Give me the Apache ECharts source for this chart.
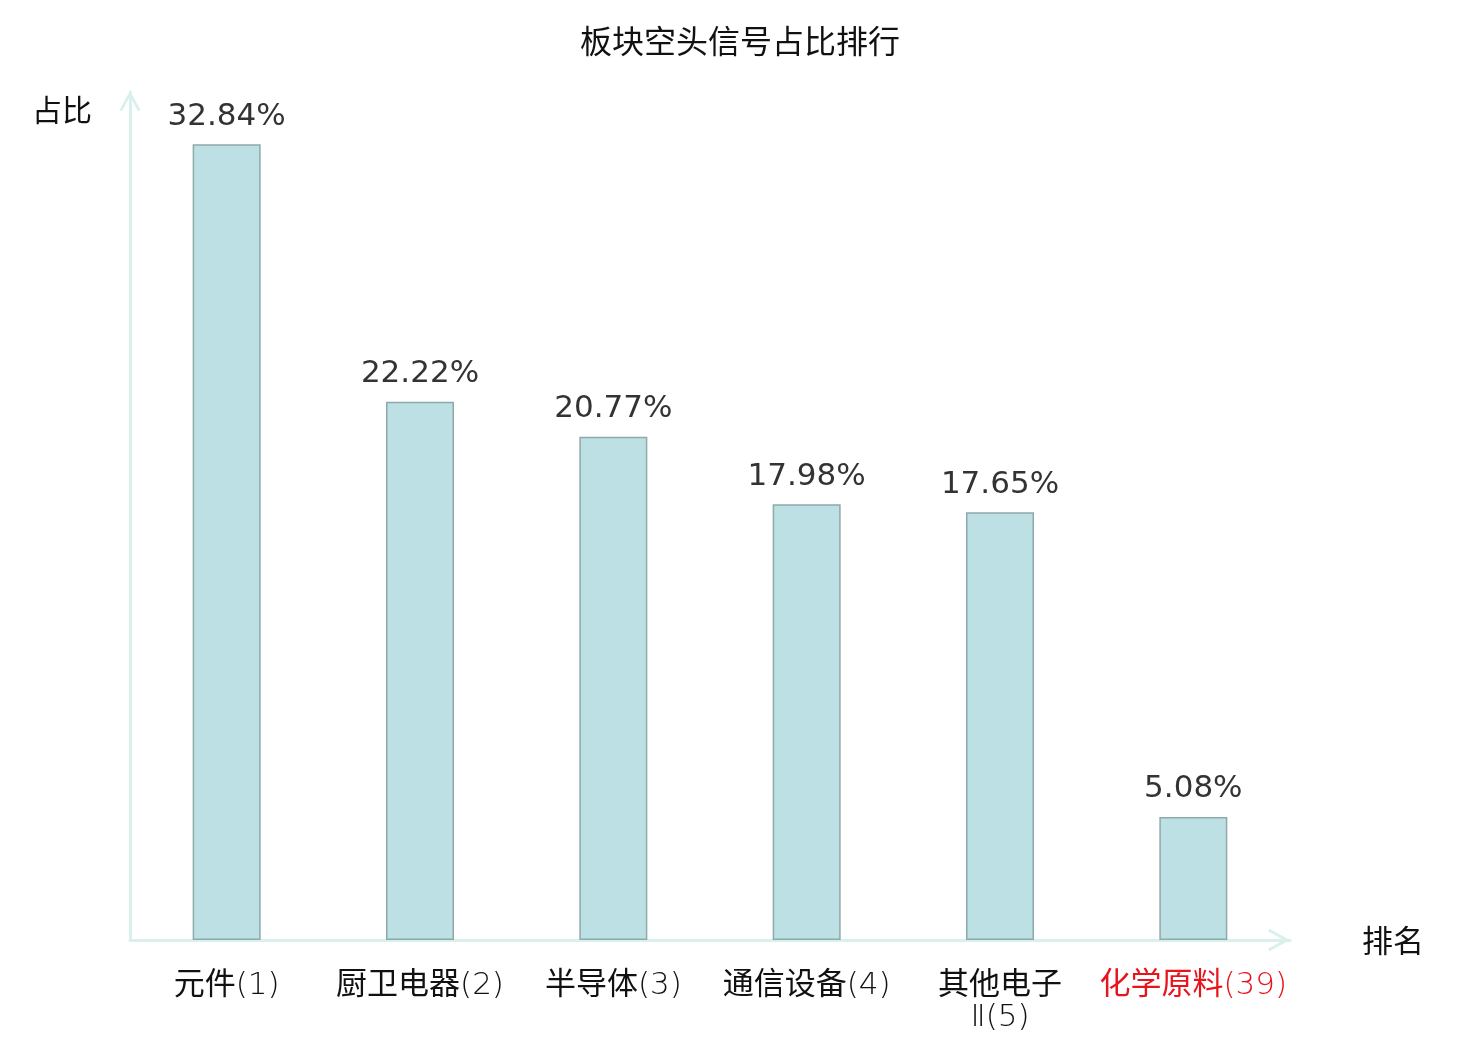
<!DOCTYPE html>
<html>
<head>
<meta charset="utf-8">
<script src="https://cdn.jsdelivr.net/npm/echarts@6/dist/echarts.min.js"></script>
<style>html,body{margin:0;padding:0;background:#fff}#c{width:1480px;height:1040px}</style>
</head>
<body>
<div id="c"></div>
<script>
const categories = ['元件(1)', '厨卫电器(2)', '半导体(3)', '通信设备(4)', '其他电子\nⅡ(5)', '化学原料(39)'];
const values = [32.84, 22.22, 20.77, 17.98, 17.65, 5.08];
const highlightIndex = 5;

const chevron = 'path://M11,0 L22,20 L19.4,21.4 L11,6 L2.6,21.4 L0,20 Z';
const axisColor = '#d9f0ec';
const cjk = '"Noto Sans CJK SC", sans-serif';
const labelFont = '"DejaVu Sans Light", "Noto Sans CJK SC", sans-serif';

const chart = echarts.init(document.getElementById('c'));
chart.setOption({
  animation: false,
  backgroundColor: '#fff',
  title: {
    text: '板块空头信号占比排行',
    left: 'center',
    top: 20,
    textStyle: { fontFamily: cjk, fontSize: 32, fontWeight: 'normal', color: '#111' }
  },
  grid: { left: 130, right: 190, top: 92, bottom: 100, containLabel: false },
  xAxis: {
    type: 'category',
    data: categories.map((c, i) => i === highlightIndex ? { value: c, textStyle: { color: '#e8141b' } } : c),
    name: '排名',
    nameLocation: 'end',
    nameGap: 72,
    nameTextStyle: { fontFamily: cjk, fontSize: 31, color: '#111', verticalAlign: 'middle' },
    axisLine: { show: true, lineStyle: { color: axisColor, width: 3 }, symbol: ['none', chevron], symbolSize: [24, 22], symbolOffset: [0, -11] },
    axisTick: { show: false },
    axisLabel: { interval: 0, margin: 30, fontFamily: labelFont, fontSize: 31, color: '#111', lineHeight: 32 },
    splitLine: { show: false }
  },
  yAxis: {
    type: 'value',
    min: 0,
    max: 35,
    name: '占比',
    nameLocation: 'end',
    nameGap: -18,
    nameTextStyle: { fontFamily: cjk, fontSize: 30, color: '#111', align: 'right', verticalAlign: 'middle', padding: [0, 38, 0, 0] },
    axisLine: { show: true, lineStyle: { color: axisColor, width: 3 }, symbol: ['none', chevron], symbolSize: [21, 22], symbolOffset: [0, -9] },
    axisTick: { show: false },
    axisLabel: { show: false },
    splitLine: { show: false }
  },
  series: [{
    type: 'bar',
    data: values,
    barWidth: 68,
    itemStyle: { color: '#bce0e3', borderColor: '#8ea9aa', borderWidth: 1.5 },
    label: {
      show: true,
      position: 'top',
      distance: 12,
      formatter: p => p.value.toFixed(2) + '%',
      fontFamily: '"DejaVu Sans", sans-serif',
      fontSize: 31,
      color: '#333'
    }
  }]
});
</script>
</body>
</html>
